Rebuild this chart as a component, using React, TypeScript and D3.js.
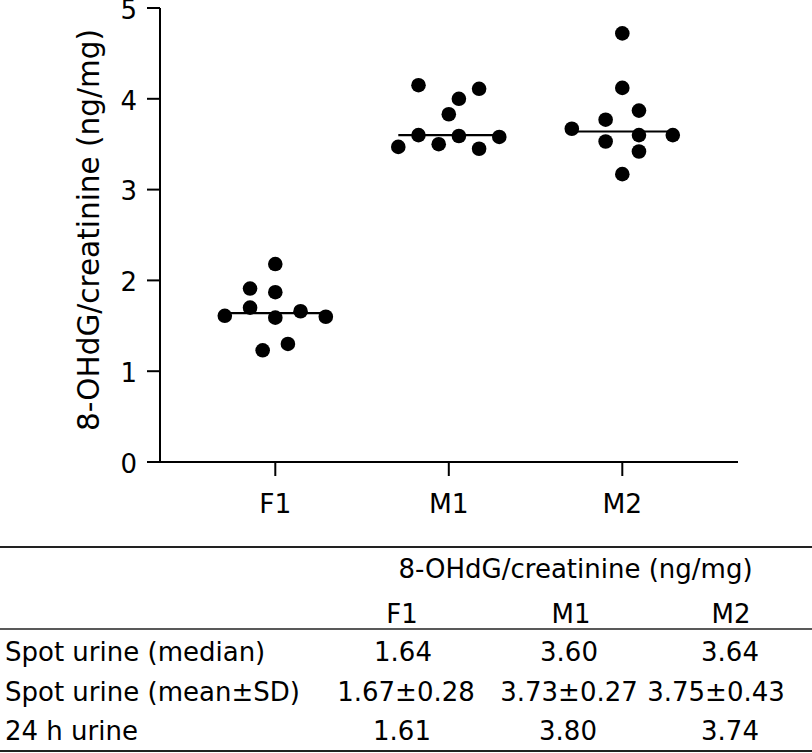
import React from "react";
import * as d3 from "d3";

const groups = ["F1", "M1", "M2"];
const f1Values = [2.18, 1.91, 1.87, 1.70, 1.61, 1.59, 1.66, 1.60, 1.23, 1.30];
const f1Jitter = [0, -0.5, 0, -0.5, -1, 0, 0.5, 1, -0.25, 0.25];
const m1Values = [4.15, 4.11, 4.00, 3.83, 3.60, 3.59, 3.47, 3.50, 3.45, 3.58];
const m1Jitter = [-0.6, 0.6, 0.2, 0, -0.6, 0.2, -1, -0.2, 0.6, 1];
const m2Values = [4.72, 4.12, 3.87, 3.77, 3.67, 3.53, 3.60, 3.60, 3.42, 3.17];
const m2Jitter = [0, 0, 0.33, -0.33, -1, -0.33, 0.33, 1, 0.33, 0];
const medians = [1.64, 3.60, 3.64];
const yTicks = [0, 1, 2, 3, 4, 5];
const yLabel = "8-OHdG/creatinine (ng/mg)";

const tableTitle = "8-OHdG/creatinine (ng/mg)";
const rowLabels = ["Spot urine (median)", "Spot urine (mean±SD)", "24 h urine"];
const medianRow = ["1.64", "3.60", "3.64"];
const meanSdRow = ["1.67±0.28", "3.73±0.27", "3.75±0.43"];
const urine24Row = ["1.61", "3.80", "3.74"];

const FONT = "'DejaVu Sans', Verdana, sans-serif";

export default function App() {
  const W = 812, H = 753;
  const y = d3.scaleLinear().domain([0, 5]).range([462, 8]);
  const x = d3.scalePoint<string>().domain(groups).range([275.3, 622.3]);
  const jit = d3.scaleLinear().domain([-1, 1]).range([-50.5, 50.5]);
  const axisX = 160;
  const series = [
    { g: "F1", v: f1Values, j: f1Jitter },
    { g: "M1", v: m1Values, j: m1Jitter },
    { g: "M2", v: m2Values, j: m2Jitter },
  ];
  const rows = [medianRow, meanSdRow, urine24Row];
  const colCenters = [[403, 569, 730], [406, 569, 716], [402, 568, 730]];
  const headerCenters = [402, 571, 731];
  const rowBase = [661, 701, 740];

  return (
    <div style={{ position: "absolute", left: 0, top: 0 }}>
      <svg width={W} height={H} style={{ display: "block" }} fontFamily={FONT}>
        <rect width={W} height={H} fill="#fff" />
        {/* axes */}
        <line x1={axisX} x2={axisX} y1={y(5)} y2={y(0)} stroke="#000" strokeWidth={2} />
        <line x1={147} x2={738} y1={y(0)} y2={y(0)} stroke="#000" strokeWidth={2} />
        {yTicks.map((t) => (
          <g key={t}>
            <line x1={147} x2={axisX} y1={y(t)} y2={y(t)} stroke="#000" strokeWidth={2} />
            <text x={137} y={y(t) + 1.5} dy="0.36em" textAnchor="end" fontSize={26} fill="#000">
              {t}
            </text>
          </g>
        ))}
        {groups.map((g) => (
          <g key={g}>
            <line x1={x(g)} x2={x(g)} y1={y(0)} y2={y(0) + 14} stroke="#000" strokeWidth={2} />
            <text x={x(g)} y={513} textAnchor="middle" fontSize={26.5} fill="#000">
              {g}
            </text>
          </g>
        ))}
        <text
          transform={`translate(99,230) rotate(-90)`}
          textAnchor="middle"
          fontSize={29.5}
          fill="#000"
        >
          {yLabel}
        </text>
        {/* median lines */}
        {groups.map((g, i) => (
          <line
            key={g}
            x1={(x(g) as number) + jit(-1)}
            x2={(x(g) as number) + jit(1)}
            y1={y(medians[i])}
            y2={y(medians[i])}
            stroke="#000"
            strokeWidth={2.2}
          />
        ))}
        {/* dots */}
        {series.map((s) =>
          s.v.map((v, k) => (
            <circle
              key={s.g + k}
              cx={(x(s.g) as number) + jit(s.j[k])}
              cy={y(v)}
              r={7.3}
              fill="#000"
            />
          ))
        )}
        {/* table */}
        <line x1={0} x2={W} y1={547} y2={547} stroke="#222" strokeWidth={2} />
        <line x1={0} x2={W} y1={629} y2={629} stroke="#222" strokeWidth={1.5} />
        <line x1={0} x2={W} y1={751} y2={751} stroke="#222" strokeWidth={2} />
        <text x={575.5} y={578} textAnchor="middle" fontSize={26} fill="#000">
          {tableTitle}
        </text>
        {groups.map((g, i) => (
          <text key={g} x={headerCenters[i]} y={623} textAnchor="middle" fontSize={26} fill="#000">
            {g}
          </text>
        ))}
        {rowLabels.map((l, r) => (
          <g key={l}>
            <text x={5} y={rowBase[r]} fontSize={26} fill="#000">
              {l}
            </text>
            {rows[r].map((c, i) => (
              <text key={i} x={colCenters[r][i]} y={rowBase[r]} textAnchor="middle" fontSize={26} fill="#000">
                {c}
              </text>
            ))}
          </g>
        ))}
      </svg>
    </div>
  );
}
